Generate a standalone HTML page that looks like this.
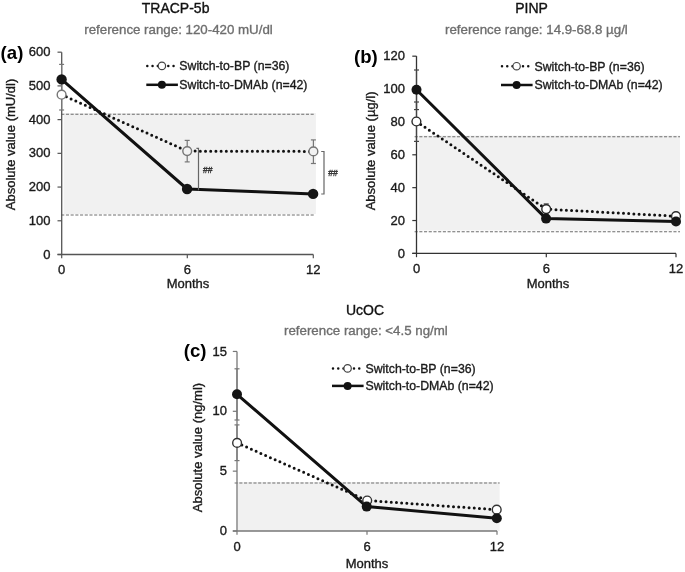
<!DOCTYPE html>
<html><head><meta charset="utf-8"><style>
html,body{margin:0;padding:0;background:#fff;}
svg{display:block;font-family:"Liberation Sans", sans-serif;filter:blur(0.45px);}
</style></head><body>
<svg width="685" height="572" viewBox="0 0 685 572">
<rect width="685" height="572" fill="#fff"/>
<rect x="63.7" y="113.0" width="252.2" height="101.0" fill="#f1f1f1"/>
<line x1="61.2" y1="114.2" x2="314.2" y2="114.2" stroke="#6e6e6e" stroke-width="1.05" stroke-dasharray="3.1 1.606"/>
<line x1="61.2" y1="215.0" x2="314.2" y2="215.0" stroke="#6e6e6e" stroke-width="1.05" stroke-dasharray="3.1 1.606"/>
<line x1="61.7" y1="52.2" x2="61.7" y2="254.5" stroke="#555" stroke-width="1.3"/>
<line x1="57.5" y1="254.5" x2="313.3" y2="254.5" stroke="#555" stroke-width="1.3"/>
<line x1="57.5" y1="254.5" x2="61.7" y2="254.5" stroke="#555" stroke-width="1.2"/>
<text x="50.5" y="258.6" font-size="13" text-anchor="end" fill="#1a1a1a" stroke="#1a1a1a" stroke-width="0.35" font-weight="normal" >0</text>
<line x1="57.5" y1="220.78" x2="61.7" y2="220.78" stroke="#555" stroke-width="1.2"/>
<text x="50.5" y="224.88" font-size="13" text-anchor="end" fill="#1a1a1a" stroke="#1a1a1a" stroke-width="0.35" font-weight="normal" >100</text>
<line x1="57.5" y1="187.06" x2="61.7" y2="187.06" stroke="#555" stroke-width="1.2"/>
<text x="50.5" y="191.16" font-size="13" text-anchor="end" fill="#1a1a1a" stroke="#1a1a1a" stroke-width="0.35" font-weight="normal" >200</text>
<line x1="57.5" y1="153.34" x2="61.7" y2="153.34" stroke="#555" stroke-width="1.2"/>
<text x="50.5" y="157.44" font-size="13" text-anchor="end" fill="#1a1a1a" stroke="#1a1a1a" stroke-width="0.35" font-weight="normal" >300</text>
<line x1="57.5" y1="119.62" x2="61.7" y2="119.62" stroke="#555" stroke-width="1.2"/>
<text x="50.5" y="123.72" font-size="13" text-anchor="end" fill="#1a1a1a" stroke="#1a1a1a" stroke-width="0.35" font-weight="normal" >400</text>
<line x1="57.5" y1="85.9" x2="61.7" y2="85.9" stroke="#555" stroke-width="1.2"/>
<text x="50.5" y="90.0" font-size="13" text-anchor="end" fill="#1a1a1a" stroke="#1a1a1a" stroke-width="0.35" font-weight="normal" >500</text>
<line x1="57.5" y1="52.18000000000001" x2="61.7" y2="52.18000000000001" stroke="#555" stroke-width="1.2"/>
<text x="50.5" y="56.28000000000001" font-size="13" text-anchor="end" fill="#1a1a1a" stroke="#1a1a1a" stroke-width="0.35" font-weight="normal" >600</text>
<line x1="61.7" y1="254.5" x2="61.7" y2="258.3" stroke="#555" stroke-width="1.2"/>
<text x="61.7" y="273.5" font-size="13" text-anchor="middle" fill="#1a1a1a" stroke="#1a1a1a" stroke-width="0.35" font-weight="normal" >0</text>
<line x1="187.3" y1="254.5" x2="187.3" y2="258.3" stroke="#555" stroke-width="1.2"/>
<text x="187.3" y="273.5" font-size="13" text-anchor="middle" fill="#1a1a1a" stroke="#1a1a1a" stroke-width="0.35" font-weight="normal" >6</text>
<line x1="313.3" y1="254.5" x2="313.3" y2="258.3" stroke="#555" stroke-width="1.2"/>
<text x="313.3" y="273.5" font-size="13" text-anchor="middle" fill="#1a1a1a" stroke="#1a1a1a" stroke-width="0.35" font-weight="normal" >12</text>
<text x="188" y="287.5" font-size="13" text-anchor="middle" fill="#1a1a1a" stroke="#1a1a1a" stroke-width="0.35" font-weight="normal" >Months</text>
<text transform="translate(15.3,210.2) rotate(-90)" x="0" y="0" font-size="13" fill="#1a1a1a" stroke="#1a1a1a" stroke-width="0.35">Absolute value (mU/dl)</text>
<text x="175.6" y="12.9" font-size="14" text-anchor="middle" fill="#111" stroke="#111" stroke-width="0.35" font-weight="normal" >TRACP-5b</text>
<text x="178.5" y="34.4" font-size="13.3" text-anchor="middle" fill="#6e6e6e" stroke="#6e6e6e" stroke-width="0.35" font-weight="normal" >reference range: 120-420 mU/dl</text>
<text transform="translate(0.6,59.2) scale(0.97,1)" x="0" y="0" font-size="19.2" font-weight="bold" fill="#000">(a)</text>
<line x1="61.6" y1="64.4" x2="61.6" y2="94.4" stroke="#777" stroke-width="1.2"/>
<line x1="59.1" y1="64.4" x2="64.1" y2="64.4" stroke="#777" stroke-width="1.2"/>
<line x1="59.1" y1="94.4" x2="64.1" y2="94.4" stroke="#777" stroke-width="1.2"/>
<line x1="61.6" y1="79.5" x2="61.6" y2="110" stroke="#777" stroke-width="1.2"/>
<line x1="59.1" y1="79.5" x2="64.1" y2="79.5" stroke="#777" stroke-width="1.2"/>
<line x1="59.1" y1="110" x2="64.1" y2="110" stroke="#777" stroke-width="1.2"/>
<line x1="187.2" y1="140.4" x2="187.2" y2="161.9" stroke="#777" stroke-width="1.2"/>
<line x1="184.7" y1="140.4" x2="189.7" y2="140.4" stroke="#777" stroke-width="1.2"/>
<line x1="184.7" y1="161.9" x2="189.7" y2="161.9" stroke="#777" stroke-width="1.2"/>
<line x1="313.4" y1="139.9" x2="313.4" y2="163.5" stroke="#777" stroke-width="1.2"/>
<line x1="310.9" y1="139.9" x2="315.9" y2="139.9" stroke="#777" stroke-width="1.2"/>
<line x1="310.9" y1="163.5" x2="315.9" y2="163.5" stroke="#777" stroke-width="1.2"/>
<polyline points="61.6,94.7 187.2,151.1 313.4,151.4" fill="none" stroke="#111" stroke-width="3" stroke-dasharray="0 5.2" stroke-linecap="round"/>
<polyline points="61.6,79.4 187.1,189 313.1,193.9" fill="none" stroke="#111" stroke-width="3" stroke-linejoin="round"/>
<circle cx="61.6" cy="94.7" r="4.4" fill="#fff" stroke="#767676" stroke-width="1.4"/>
<circle cx="187.2" cy="151.1" r="4.4" fill="#f2f2f2" stroke="#767676" stroke-width="1.4"/>
<circle cx="313.4" cy="151.4" r="4.4" fill="#f2f2f2" stroke="#767676" stroke-width="1.4"/>
<circle cx="61.6" cy="79.4" r="5.2" fill="#151515"/>
<circle cx="187.1" cy="189" r="5.2" fill="#151515"/>
<circle cx="313.1" cy="193.9" r="5.2" fill="#151515"/>
<line x1="147.3" y1="65.9" x2="173.8" y2="65.9" stroke="#111" stroke-width="2.5" stroke-dasharray="0 5.25" stroke-linecap="round"/>
<circle cx="161.9" cy="65.9" r="3.7" fill="#fff" stroke="#444" stroke-width="1.2"/>
<line x1="146.3" y1="84.8" x2="177.9" y2="84.8" stroke="#111" stroke-width="2.5"/>
<circle cx="161.9" cy="84.8" r="4" fill="#111"/>
<text x="179.3" y="70.30000000000001" font-size="12.3" text-anchor="start" fill="#1a1a1a" stroke="#1a1a1a" stroke-width="0.35" font-weight="normal" >Switch-to-BP (n=36)</text>
<text x="179.3" y="89.2" font-size="12.3" text-anchor="start" fill="#1a1a1a" stroke="#1a1a1a" stroke-width="0.35" font-weight="normal" >Switch-to-DMAb (n=42)</text>
<rect x="418.5" y="135.6" width="261.5" height="94.9" fill="#f1f1f1"/>
<line x1="414.6" y1="136.7" x2="680" y2="136.7" stroke="#6e6e6e" stroke-width="1.05" stroke-dasharray="3.1 1.606"/>
<line x1="414.6" y1="231.7" x2="680" y2="231.7" stroke="#6e6e6e" stroke-width="1.05" stroke-dasharray="3.1 1.606"/>
<line x1="416.5" y1="56.1" x2="416.5" y2="253.4" stroke="#333" stroke-width="1.3"/>
<line x1="412.3" y1="253.4" x2="676" y2="253.4" stroke="#333" stroke-width="1.3"/>
<line x1="412.3" y1="253.4" x2="416.5" y2="253.4" stroke="#333" stroke-width="1.2"/>
<text x="405" y="257.5" font-size="13" text-anchor="end" fill="#1a1a1a" stroke="#1a1a1a" stroke-width="0.35" font-weight="normal" >0</text>
<line x1="412.3" y1="220.53" x2="416.5" y2="220.53" stroke="#333" stroke-width="1.2"/>
<text x="405" y="224.63" font-size="13" text-anchor="end" fill="#1a1a1a" stroke="#1a1a1a" stroke-width="0.35" font-weight="normal" >20</text>
<line x1="412.3" y1="187.66000000000003" x2="416.5" y2="187.66000000000003" stroke="#333" stroke-width="1.2"/>
<text x="405" y="191.76000000000002" font-size="13" text-anchor="end" fill="#1a1a1a" stroke="#1a1a1a" stroke-width="0.35" font-weight="normal" >40</text>
<line x1="412.3" y1="154.79000000000002" x2="416.5" y2="154.79000000000002" stroke="#333" stroke-width="1.2"/>
<text x="405" y="158.89000000000001" font-size="13" text-anchor="end" fill="#1a1a1a" stroke="#1a1a1a" stroke-width="0.35" font-weight="normal" >60</text>
<line x1="412.3" y1="121.92000000000002" x2="416.5" y2="121.92000000000002" stroke="#333" stroke-width="1.2"/>
<text x="405" y="126.02000000000001" font-size="13" text-anchor="end" fill="#1a1a1a" stroke="#1a1a1a" stroke-width="0.35" font-weight="normal" >80</text>
<line x1="412.3" y1="89.05000000000001" x2="416.5" y2="89.05000000000001" stroke="#333" stroke-width="1.2"/>
<text x="405" y="93.15" font-size="13" text-anchor="end" fill="#1a1a1a" stroke="#1a1a1a" stroke-width="0.35" font-weight="normal" >100</text>
<line x1="412.3" y1="56.180000000000035" x2="416.5" y2="56.180000000000035" stroke="#333" stroke-width="1.2"/>
<text x="405" y="60.28000000000004" font-size="13" text-anchor="end" fill="#1a1a1a" stroke="#1a1a1a" stroke-width="0.35" font-weight="normal" >120</text>
<line x1="416.5" y1="253.4" x2="416.5" y2="257.2" stroke="#333" stroke-width="1.2"/>
<text x="416.5" y="273" font-size="13" text-anchor="middle" fill="#1a1a1a" stroke="#1a1a1a" stroke-width="0.35" font-weight="normal" >0</text>
<line x1="546.3" y1="253.4" x2="546.3" y2="257.2" stroke="#333" stroke-width="1.2"/>
<text x="546.3" y="273" font-size="13" text-anchor="middle" fill="#1a1a1a" stroke="#1a1a1a" stroke-width="0.35" font-weight="normal" >6</text>
<line x1="676" y1="253.4" x2="676" y2="257.2" stroke="#333" stroke-width="1.2"/>
<text x="676" y="273" font-size="13" text-anchor="middle" fill="#1a1a1a" stroke="#1a1a1a" stroke-width="0.35" font-weight="normal" >12</text>
<text x="548" y="287.5" font-size="13" text-anchor="middle" fill="#1a1a1a" stroke="#1a1a1a" stroke-width="0.35" font-weight="normal" >Months</text>
<text transform="translate(375.4,210.3) rotate(-90)" x="0" y="0" font-size="13" fill="#1a1a1a" stroke="#1a1a1a" stroke-width="0.35">Absolute value (µg/l)</text>
<text x="531.5" y="13.3" font-size="14" text-anchor="middle" fill="#111" stroke="#111" stroke-width="0.35" font-weight="normal" >PINP</text>
<text x="536.4" y="34.0" font-size="13.3" text-anchor="middle" fill="#6e6e6e" stroke="#6e6e6e" stroke-width="0.35" font-weight="normal" >reference range: 14.9-68.8 µg/l</text>
<text transform="translate(354,63.1) scale(0.97,1)" x="0" y="0" font-size="19.2" font-weight="bold" fill="#000">(b)</text>
<line x1="416.5" y1="70" x2="416.5" y2="109.6" stroke="#444" stroke-width="1.2"/>
<line x1="414.0" y1="70" x2="419.0" y2="70" stroke="#444" stroke-width="1.2"/>
<line x1="414.0" y1="109.6" x2="419.0" y2="109.6" stroke="#444" stroke-width="1.2"/>
<line x1="416.5" y1="102" x2="416.5" y2="141.4" stroke="#444" stroke-width="1.2"/>
<line x1="414.0" y1="102" x2="419.0" y2="102" stroke="#444" stroke-width="1.2"/>
<line x1="414.0" y1="141.4" x2="419.0" y2="141.4" stroke="#444" stroke-width="1.2"/>
<line x1="546.2" y1="203.9" x2="546.2" y2="214" stroke="#444" stroke-width="1.2"/>
<line x1="543.7" y1="203.9" x2="548.7" y2="203.9" stroke="#444" stroke-width="1.2"/>
<line x1="543.7" y1="214" x2="548.7" y2="214" stroke="#444" stroke-width="1.2"/>
<polyline points="416.4,121.5 546.2,209.1 676,216.2" fill="none" stroke="#111" stroke-width="3" stroke-dasharray="0 5.2" stroke-linecap="round"/>
<polyline points="416.5,89.8 546.1,218.6 676,221.5" fill="none" stroke="#111" stroke-width="3" stroke-linejoin="round"/>
<circle cx="416.4" cy="121.5" r="4.4" fill="#fff" stroke="#2a2a2a" stroke-width="1.4"/>
<circle cx="546.2" cy="209.1" r="4.4" fill="#fff" stroke="#2a2a2a" stroke-width="1.4"/>
<circle cx="676" cy="216.2" r="4.4" fill="#fff" stroke="#2a2a2a" stroke-width="1.4"/>
<circle cx="416.5" cy="89.8" r="5.0" fill="#151515"/>
<circle cx="546.1" cy="218.6" r="5.0" fill="#151515"/>
<circle cx="676" cy="221.5" r="5.0" fill="#151515"/>
<line x1="502" y1="66.2" x2="528.5" y2="66.2" stroke="#111" stroke-width="2.5" stroke-dasharray="0 5.25" stroke-linecap="round"/>
<circle cx="516.6" cy="66.2" r="3.7" fill="#fff" stroke="#444" stroke-width="1.2"/>
<line x1="501" y1="85" x2="532.6" y2="85" stroke="#111" stroke-width="2.5"/>
<circle cx="516.6" cy="85" r="4" fill="#111"/>
<text x="534.5" y="70.60000000000001" font-size="12.3" text-anchor="start" fill="#1a1a1a" stroke="#1a1a1a" stroke-width="0.35" font-weight="normal" >Switch-to-BP (n=36)</text>
<text x="534.5" y="89.4" font-size="12.3" text-anchor="start" fill="#1a1a1a" stroke="#1a1a1a" stroke-width="0.35" font-weight="normal" >Switch-to-DMAb (n=42)</text>
<rect x="237.6" y="482" width="262.0" height="49" fill="#f1f1f1"/>
<line x1="234.6" y1="482.9" x2="499.6" y2="482.9" stroke="#6e6e6e" stroke-width="1.05" stroke-dasharray="3.1 1.606"/>
<line x1="237" y1="351.5" x2="237" y2="531" stroke="#777" stroke-width="1.3"/>
<line x1="232.8" y1="531" x2="497" y2="531" stroke="#777" stroke-width="1.3"/>
<line x1="232.8" y1="531.0" x2="237" y2="531.0" stroke="#777" stroke-width="1.2"/>
<text x="227" y="535.1" font-size="13" text-anchor="end" fill="#1a1a1a" stroke="#1a1a1a" stroke-width="0.35" font-weight="normal" >0</text>
<line x1="232.8" y1="471.15" x2="237" y2="471.15" stroke="#777" stroke-width="1.2"/>
<text x="227" y="475.25" font-size="13" text-anchor="end" fill="#1a1a1a" stroke="#1a1a1a" stroke-width="0.35" font-weight="normal" >5</text>
<line x1="232.8" y1="411.3" x2="237" y2="411.3" stroke="#777" stroke-width="1.2"/>
<text x="227" y="415.40000000000003" font-size="13" text-anchor="end" fill="#1a1a1a" stroke="#1a1a1a" stroke-width="0.35" font-weight="normal" >10</text>
<line x1="232.8" y1="351.45" x2="237" y2="351.45" stroke="#777" stroke-width="1.2"/>
<text x="227" y="355.55" font-size="13" text-anchor="end" fill="#1a1a1a" stroke="#1a1a1a" stroke-width="0.35" font-weight="normal" >15</text>
<line x1="237" y1="531" x2="237" y2="534.8" stroke="#777" stroke-width="1.2"/>
<text x="237" y="550.5" font-size="13" text-anchor="middle" fill="#1a1a1a" stroke="#1a1a1a" stroke-width="0.35" font-weight="normal" >0</text>
<line x1="367" y1="531" x2="367" y2="534.8" stroke="#777" stroke-width="1.2"/>
<text x="367" y="550.5" font-size="13" text-anchor="middle" fill="#1a1a1a" stroke="#1a1a1a" stroke-width="0.35" font-weight="normal" >6</text>
<line x1="497" y1="531" x2="497" y2="534.8" stroke="#777" stroke-width="1.2"/>
<text x="497" y="550.5" font-size="13" text-anchor="middle" fill="#1a1a1a" stroke="#1a1a1a" stroke-width="0.35" font-weight="normal" >12</text>
<text x="367" y="567.5" font-size="13" text-anchor="middle" fill="#1a1a1a" stroke="#1a1a1a" stroke-width="0.35" font-weight="normal" >Months</text>
<text transform="translate(202.4,512.2) rotate(-90)" x="0" y="0" font-size="13" fill="#1a1a1a" stroke="#1a1a1a" stroke-width="0.35">Absolute value (ng/ml)</text>
<text x="365" y="315.2" font-size="14" text-anchor="middle" fill="#111" stroke="#111" stroke-width="0.35" font-weight="normal" >UcOC</text>
<text x="365.9" y="335.3" font-size="13.3" text-anchor="middle" fill="#6e6e6e" stroke="#6e6e6e" stroke-width="0.35" font-weight="normal" >reference range: &lt;4.5 ng/ml</text>
<text transform="translate(183.8,357.1) scale(0.97,1)" x="0" y="0" font-size="19.2" font-weight="bold" fill="#000">(c)</text>
<line x1="237" y1="368.8" x2="237" y2="420" stroke="#777" stroke-width="1.2"/>
<line x1="234.5" y1="368.8" x2="239.5" y2="368.8" stroke="#777" stroke-width="1.2"/>
<line x1="234.5" y1="420" x2="239.5" y2="420" stroke="#777" stroke-width="1.2"/>
<line x1="237" y1="424.9" x2="237" y2="460.6" stroke="#777" stroke-width="1.2"/>
<line x1="234.5" y1="424.9" x2="239.5" y2="424.9" stroke="#777" stroke-width="1.2"/>
<line x1="234.5" y1="460.6" x2="239.5" y2="460.6" stroke="#777" stroke-width="1.2"/>
<polyline points="237.1,442.9 367.2,500.5 496.7,509.7" fill="none" stroke="#111" stroke-width="3" stroke-dasharray="0 5.2" stroke-linecap="round"/>
<polyline points="237,394.3 366.7,506.6 496.8,518.3" fill="none" stroke="#111" stroke-width="3" stroke-linejoin="round"/>
<circle cx="237.1" cy="442.9" r="4.4" fill="#fff" stroke="#333" stroke-width="1.4"/>
<circle cx="367.2" cy="500.5" r="4.4" fill="#fff" stroke="#333" stroke-width="1.4"/>
<circle cx="496.7" cy="509.7" r="4.4" fill="#fff" stroke="#333" stroke-width="1.4"/>
<circle cx="237" cy="394.3" r="5.0" fill="#151515"/>
<circle cx="366.7" cy="506.6" r="5.0" fill="#151515"/>
<circle cx="496.8" cy="518.3" r="5.0" fill="#151515"/>
<line x1="333" y1="368.4" x2="359.5" y2="368.4" stroke="#111" stroke-width="2.5" stroke-dasharray="0 5.25" stroke-linecap="round"/>
<circle cx="347.6" cy="368.4" r="3.7" fill="#fff" stroke="#444" stroke-width="1.2"/>
<line x1="332" y1="385.9" x2="363.6" y2="385.9" stroke="#111" stroke-width="2.5"/>
<circle cx="347.6" cy="385.9" r="4" fill="#111"/>
<text x="365.5" y="372.79999999999995" font-size="12.3" text-anchor="start" fill="#1a1a1a" stroke="#1a1a1a" stroke-width="0.35" font-weight="normal" >Switch-to-BP (n=36)</text>
<text x="365.5" y="390.29999999999995" font-size="12.3" text-anchor="start" fill="#1a1a1a" stroke="#1a1a1a" stroke-width="0.35" font-weight="normal" >Switch-to-DMAb (n=42)</text>
<path d="M196.4,148.3 H198.5 V190.3" fill="none" stroke="#666" stroke-width="1.2"/>
<text x="207.8" y="172.9" font-size="8.5" text-anchor="middle" fill="#333" stroke="#333" stroke-width="0.35" font-weight="normal" >##</text>
<path d="M321.2,151.5 H324 V194 H321.2" fill="none" stroke="#666" stroke-width="1.2"/>
<text x="333.1" y="176.3" font-size="8.5" text-anchor="middle" fill="#333" stroke="#333" stroke-width="0.35" font-weight="normal" >##</text>
</svg></body></html>
